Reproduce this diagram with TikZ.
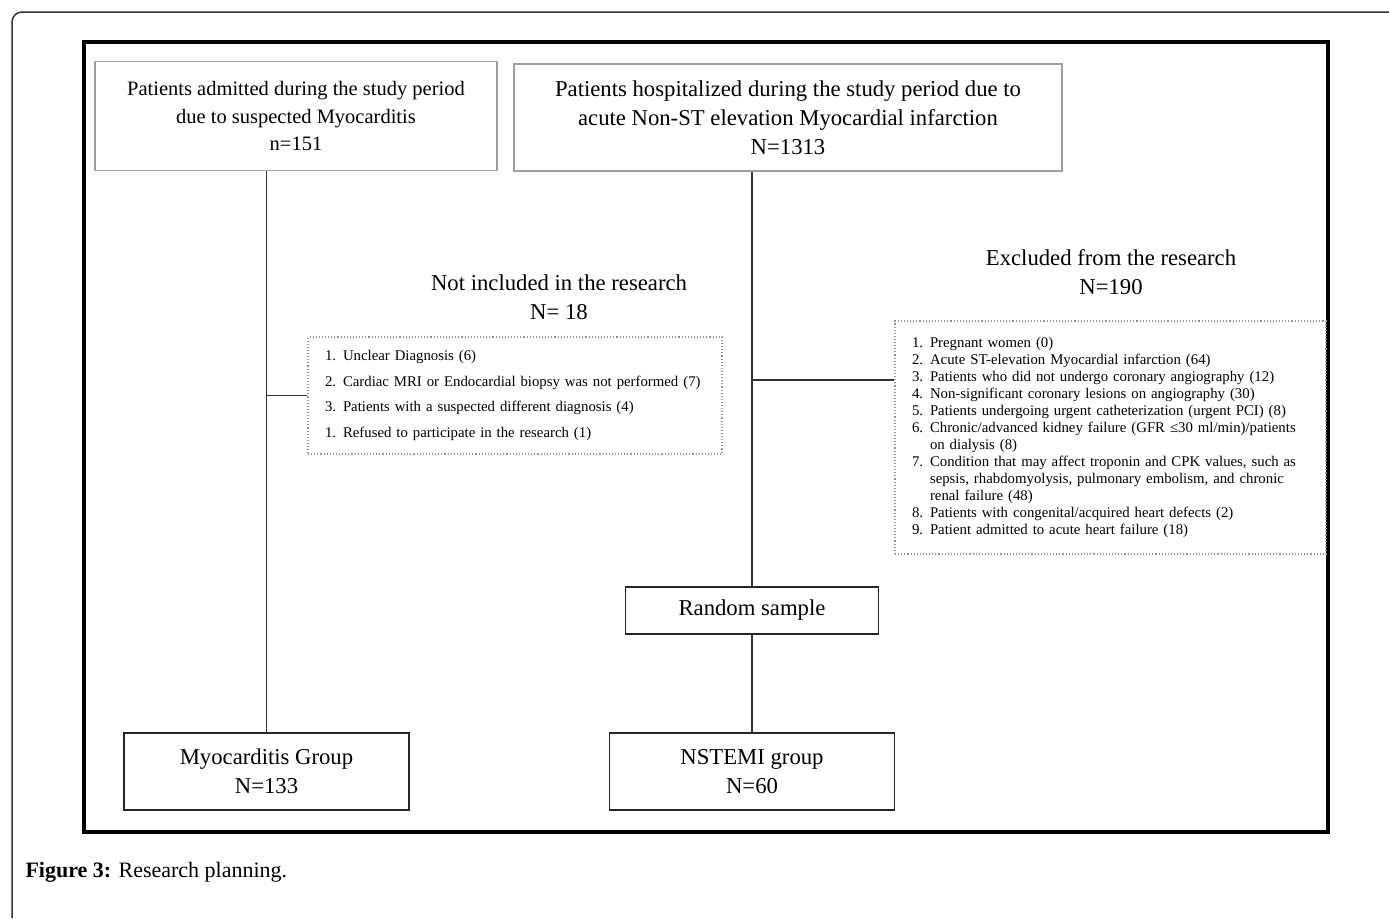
\documentclass[tikz,border=0pt]{standalone}
\usepackage{fontspec}
\setmainfont{Liberation Serif}

\newcommand{\lista}[2]{\hangindent=18pt\hangafter=1\noindent\makebox[18pt][l]{#1}#2\par}

\tikzset{
  caja/.style={draw=gray!75,line width=1.3pt,align=center,inner sep=0pt},
  cajanegra/.style={draw=black!85,line width=1.6pt,align=center,inner sep=0pt},
  punteada/.style={draw=gray!85,dotted,line width=1.1pt,align=left,inner ysep=0pt,inner xsep=17pt},
  linea/.style={black!80,line width=1.9pt},
}

\begin{document}
\begin{tikzpicture}[x=1pt,y=-1pt,every node/.style={font=\fontsize{22.7}{29}\selectfont}]
\useasboundingbox (0,0) rectangle (1389,918);

%Marcos
\draw[black!80,line width=1.5pt,rounded corners=10pt] (12,918) -- (12,12) -- (1389,12);
\draw[line width=4pt] (84,42) rectangle (1328,832);

%Cajas superiores
\node[caja,minimum width=402pt,minimum height=109pt,font=\fontsize{20.5}{27.5}\selectfont] (miocard) at (296,116) {Patients admitted during the study period\\due to suspected Myocarditis\\n=151};
\node[caja,minimum width=548pt,minimum height=107pt] (hospital) at (788,117.5) {Patients hospitalized during the study period due to\\acute Non-ST elevation Myocardial infarction\\N=1313};

%Titulos
\node[align=center] (tituloNo) at (559,297) {Not included in the research\\N= 18};
\node[align=center] (tituloEx) at (1111,272) {Excluded from the research\\N=190};

%Cajas punteadas
\node[punteada,text width=380pt,minimum height=117pt,font=\fontsize{14.8}{25.5}\selectfont] (noIncl) at (515,395.5) {%
\lista{1.}{Unclear Diagnosis (6)}
\lista{2.}{Cardiac MRI or Endocardial biopsy was not performed (7)}
\lista{3.}{Patients with a suspected different diagnosis (4)}
\lista{1.}{Refused to participate in the research (1)}};
\node[punteada,text width=397pt,minimum height=233pt,font=\fontsize{14.8}{17}\selectfont] (excluidos) at (1110.5,437.5) {%
\lista{1.}{Pregnant women (0)}
\lista{2.}{Acute ST-elevation Myocardial infarction (64)}
\lista{3.}{Patients who did not undergo coronary angiography (12)}
\lista{4.}{Non-significant coronary lesions on angiography (30)}
\lista{5.}{Patients undergoing urgent catheterization (urgent PCI) (8)}
\lista{6.}{Chronic/advanced kidney failure (GFR ≤30 ml/min)/patients\newline on dialysis (8)}
\lista{7.}{Condition that may affect troponin and CPK values, such as\newline sepsis, rhabdomyolysis, pulmonary embolism, and chronic\newline renal failure (48)}
\lista{8.}{Patients with congenital/acquired heart defects (2)}
\lista{9.}{Patient admitted to acute heart failure (18)}};

%Cajas inferiores
\node[cajanegra,minimum width=253pt,minimum height=47pt] (muestra) at (752,610.5) {Random sample};
\node[cajanegra,minimum width=285pt,minimum height=77pt] (grupoMio) at (266.5,771.5) {Myocarditis Group\\N=133};
\node[cajanegra,minimum width=285pt,minimum height=77pt] (grupoNstemi) at (752,771.5) {NSTEMI group\\N=60};

%Conectores
\coordinate (ramaEx) at (muestra.north |- 0,380);
\draw[linea] (miocard.south -| grupoMio.north) -- (grupoMio.north);
\draw[linea] (noIncl.west) -- (noIncl.west -| grupoMio.north);
\draw[linea] (hospital.south -| muestra.north) -- (muestra.north);
\draw[linea] (ramaEx) -- (ramaEx -| excluidos.west);
\draw[linea] (muestra.south) -- (grupoNstemi.north);

%Pie
\node[anchor=west,font=\fontsize{22}{26}\selectfont] (pie) at (22,872) {\textbf{Figure 3:} Research planning.};
\end{tikzpicture}
\end{document}
